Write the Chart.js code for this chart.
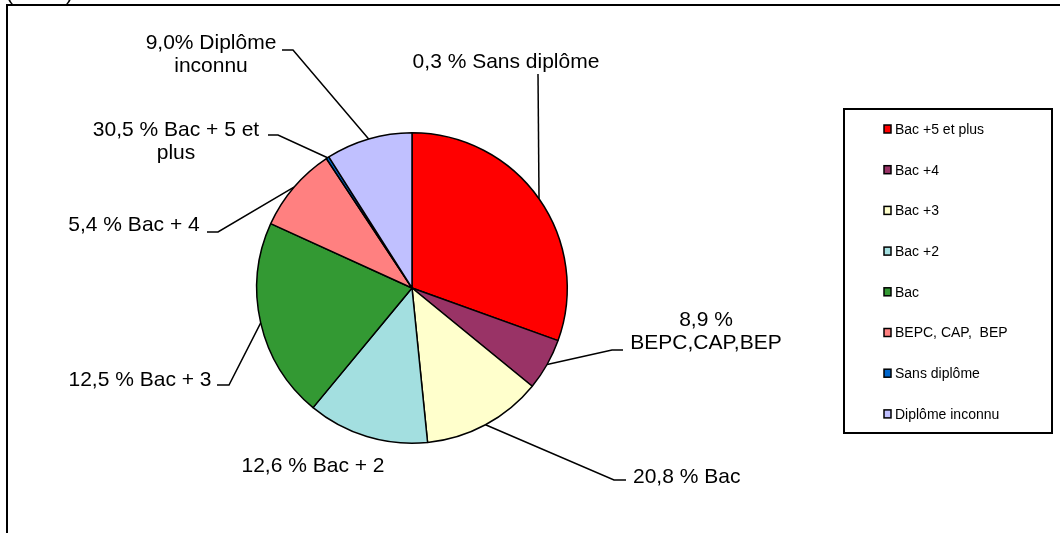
<!DOCTYPE html>
<html>
<head>
<meta charset="utf-8">
<script src="https://cdn.jsdelivr.net/npm/chart.js@4/dist/chart.umd.min.js"></script>
<style>
  body { margin: 0; background: #fff; }
  #wrap { width: 1060px; height: 533px; }
</style>
</head>
<body>
<div id="wrap"><canvas id="myChart" width="1060" height="533"></canvas></div>
<script>
// legend categories, in slice order (clockwise from 12 o'clock)
const categories = ['Bac +5 et plus', 'Bac +4', 'Bac +3', 'Bac +2', 'Bac', 'BEPC, CAP,  BEP', 'Sans diplôme', 'Diplôme inconnu'];
const shares = [30.5, 5.4, 12.5, 12.6, 20.8, 8.9, 0.3, 9.0];
const sliceColors = ['#FF0000', '#993366', '#FFFFCC', '#A3DFE0', '#339933', '#FF8080', '#0066CC', '#C0C0FF'];

// data labels as they stand next to each slice in the original
const sliceLabels = [
  ['0,3 % Sans diplôme'],
  ['8,9 %', 'BEPC,CAP,BEP'],
  ['20,8 % Bac'],
  ['12,6 % Bac + 2'],
  ['12,5 % Bac + 3'],
  ['5,4 % Bac + 4'],
  ['30,5 % Bac + 5 et', 'plus'],
  ['9,0% Diplôme', 'inconnu']
];

// where each label sits, and the bend of its leader line
const labelLayout = [
  { x: 506, y: 62, align: 'center', tail: null, elbow: [538, 74] },
  { x: 706, y: 320, align: 'center', tail: [623, 350], elbow: [612, 350] },
  { x: 633, y: 477, align: 'left', tail: [626, 480], elbow: [614, 480] },
  { x: 313, y: 466, align: 'center', tail: null, elbow: null },
  { x: 140, y: 380, align: 'center', tail: [217, 385], elbow: [229, 385] },
  { x: 134, y: 225, align: 'center', tail: [207, 232], elbow: [218, 232] },
  { x: 176, y: 130, align: 'center', tail: [268, 135], elbow: [278, 135] },
  { x: 211, y: 43, align: 'center', tail: [282, 50], elbow: [293, 50] }
];

const FONT = '"Liberation Sans", Arial, sans-serif';

const decorations = {
  id: 'decorations',
  beforeDraw(chart) {
    const ctx = chart.ctx;
    ctx.save();
    ctx.fillStyle = '#fff';
    ctx.fillRect(0, 0, chart.width, chart.height);
    // outer frame (runs off the right and bottom edge)
    ctx.strokeStyle = '#000';
    ctx.lineWidth = 2;
    ctx.beginPath();
    ctx.moveTo(1070, 5);
    ctx.lineTo(7, 5);
    ctx.lineTo(7, 545);
    ctx.stroke();
    // clipped title above the frame
    ctx.fillStyle = '#000';
    ctx.font = '21px ' + FONT;
    ctx.textBaseline = 'alphabetic';
    ctx.textAlign = 'left';
    ctx.fillText('(', 6, 0);
    ctx.fillText(')', 66, 0);
    ctx.restore();
  },
  afterDraw(chart) {
    const ctx = chart.ctx;
    const arcs = chart.getDatasetMeta(0).data;
    const ds = chart.data.datasets[0];
    ctx.save();

    // leader lines
    ctx.strokeStyle = '#000';
    ctx.lineWidth = 1.5;
    arcs.forEach((arc, i) => {
      const lay = labelLayout[i];
      if (!lay.elbow) return;
      const mid = (arc.startAngle + arc.endAngle) / 2;
      const ex = arc.x + Math.cos(mid) * arc.outerRadius;
      const ey = arc.y + Math.sin(mid) * arc.outerRadius;
      ctx.beginPath();
      if (lay.tail) ctx.moveTo(lay.tail[0], lay.tail[1]);
      else ctx.moveTo(lay.elbow[0], lay.elbow[1]);
      ctx.lineTo(lay.elbow[0], lay.elbow[1]);
      ctx.lineTo(ex, ey);
      ctx.stroke();
    });

    // label texts
    ctx.fillStyle = '#000';
    ctx.font = '21px ' + FONT;
    ctx.textBaseline = 'middle';
    sliceLabels.forEach((lines, i) => {
      const lay = labelLayout[i];
      ctx.textAlign = lay.align;
      lines.forEach((t, k) => ctx.fillText(t, lay.x, lay.y + k * 23));
    });

    // legend box
    ctx.lineWidth = 2;
    ctx.strokeRect(844, 109, 208, 324);
    ctx.font = '14px ' + FONT;
    ctx.textAlign = 'left';
    chart.data.labels.forEach((lab, i) => {
      const y = 129 + i * 40.7;
      ctx.fillStyle = ds.backgroundColor[i];
      ctx.fillRect(884, y - 4, 7, 8);
      ctx.lineWidth = 1.5;
      ctx.strokeRect(884, y - 4, 7, 8);
      ctx.fillStyle = '#000';
      ctx.fillText(lab, 895, y + 1);
    });
    ctx.restore();
  }
};

const ctx = document.getElementById('myChart').getContext('2d');
const chart = new Chart(ctx, {
  type: 'pie',
  data: {
    labels: categories,
    datasets: [{
      data: shares,
      backgroundColor: sliceColors,
      borderColor: '#000',
      borderWidth: 1.5
    }]
  },
  options: {
    responsive: false,
    animation: false,
    devicePixelRatio: 1,
    layout: { padding: { left: 256, right: 492, top: 132, bottom: 89 } },
    plugins: {
      legend: { display: false },
      tooltip: { enabled: false }
    }
  },
  plugins: [decorations]
});
</script>
</body>
</html>
